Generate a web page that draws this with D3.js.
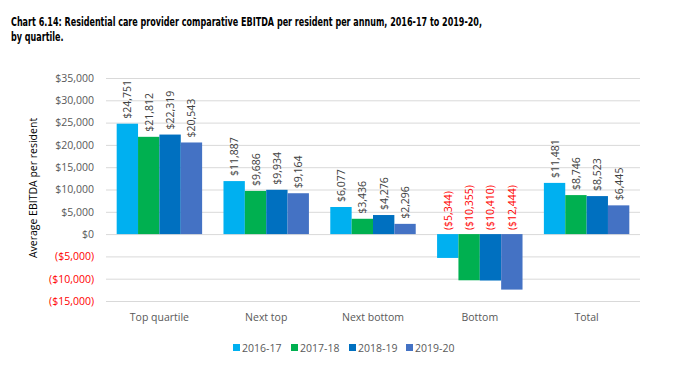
<!DOCTYPE html>
<html><head><meta charset="utf-8">
<script src="https://cdn.jsdelivr.net/npm/d3@7"></script>
<style>body{margin:0;background:#fff}svg{display:block}</style>
</head><body>
<svg id="c" width="692" height="375"></svg>
<script>
const categories = ["Top quartile","Next top","Next bottom","Bottom","Total"];
const seriesNames = ["2016-17","2017-18","2018-19","2019-20"];
const v2016 = [24751, 11887, 6077, -5344, 11481];
const v2017 = [21812, 9686, 3436, -10355, 8746];
const v2018 = [22319, 9934, 4276, -10410, 8523];
const v2019 = [20543, 9164, 2296, -12444, 6445];
const seriesValues = [v2016, v2017, v2018, v2019];
const colors = ["#00B0F0","#00B050","#0070C0","#4472C4"];
const yTicks = [35000,30000,25000,20000,15000,10000,5000,0,-5000,-10000,-15000];

const svg = d3.select("#c");
const font = "Open Sans, sans-serif";
const tfont = "'Liberation Sans Narrow', 'DejaVu Sans Condensed', 'Open Sans', sans-serif";
const fmt = v => v < 0 ? "($" + d3.format(",")(-v) + ")" : "$" + d3.format(",")(v);

// title
const tsize = 13;
const t1 = svg.append("text").attr("x",11).attr("y",25.5).attr("font-family",tfont).attr("font-weight","bold")
  .attr("font-size",tsize).attr("fill","#000")
  .text("Chart 6.14: Residential care provider comparative EBITDA per resident per annum, 2016-17 to 2019-20,");
const k = 471 / t1.node().getComputedTextLength();
t1.attr("textLength",471).attr("lengthAdjust","spacingAndGlyphs");
const t2 = svg.append("text").attr("x",11).attr("y",41).attr("font-family",tfont).attr("font-weight","bold")
  .attr("font-size",tsize).attr("fill","#000")
  .text("by quartile.");
t2.attr("textLength", t2.node().getComputedTextLength()*k).attr("lengthAdjust","spacingAndGlyphs");

const x0 = d3.scaleBand().domain(categories).range([106,640]).paddingInner(0.2).paddingOuter(0.1);
const x1 = d3.scaleBand().domain(seriesNames).range([0,x0.bandwidth()]);
const y = d3.scaleLinear().domain([-15000,35000]).range([301,78]);

// gridlines
svg.append("g").selectAll("line").data(yTicks).join("line")
  .attr("x1",106).attr("x2",640).attr("y1",d=>y(d)+0.5).attr("y2",d=>y(d)+0.5)
  .attr("stroke","#d9d9d9").attr("stroke-width",1);

// y axis labels
const yAxis = d3.axisLeft(y).tickValues(yTicks).tickFormat(fmt).tickSize(0).tickPadding(0);
const ga = svg.append("g").attr("transform","translate(94,0)").call(yAxis);
ga.select(".domain").remove();
ga.selectAll("text").attr("font-family",font).attr("font-size",10.5)
  .attr("fill",d=>d<0?"#FF0000":"#595959");

// y title
svg.append("text").attr("transform","translate(37,188) rotate(-90)").attr("text-anchor","middle")
  .attr("font-family",font).attr("font-size",10.5).attr("fill","#000").text("Average EBITDA per resident");

// bars
const groups = svg.append("g").selectAll("g").data(categories).join("g")
  .attr("transform",d=>`translate(${x0(d)},0)`);
const cells = groups.selectAll("g").data((c,i)=>seriesNames.map((s,j)=>({s, v:seriesValues[j][i], j}))).join("g");
cells.append("rect")
  .attr("x",d=>x1(d.s)).attr("width",x1.bandwidth())
  .attr("y",d=>Math.min(y(d.v),y(0))).attr("height",d=>Math.abs(y(d.v)-y(0)))
  .attr("fill",d=>colors[d.j]);
cells.append("text")
  .attr("transform",d=>{
    const cx = x1(d.s)+x1.bandwidth()/2 + 4;
    const base = d.v<0 ? y(0)-4 : y(d.v)-5;
    return `translate(${cx},${base}) rotate(-90)`;
  })
  .attr("font-family",font).attr("font-size",10.5)
  .attr("fill",d=>d.v<0?"#FF0000":"#404040")
  .text(d=>fmt(d.v));

// x axis labels
const xAxis = d3.axisBottom(x0).tickSize(0).tickPadding(0);
const gx = svg.append("g").attr("transform","translate(0,314)").call(xAxis);
gx.select(".domain").remove();
gx.selectAll("text").attr("font-family",font).attr("font-size",10.5).attr("fill","#595959").attr("dy","0.71em");

// legend
const legX = [233,291,349,406];
const leg = svg.append("g").selectAll("g").data(seriesNames).join("g")
  .attr("transform",(d,i)=>`translate(${legX[i]},344)`);
leg.append("rect").attr("width",7).attr("height",7).attr("fill",(d,i)=>colors[i]);
leg.append("text").attr("x",9).attr("y",8).attr("font-family",font).attr("font-size",10.5)
  .attr("fill","#595959").text(d=>d);
</script>
</body></html>
